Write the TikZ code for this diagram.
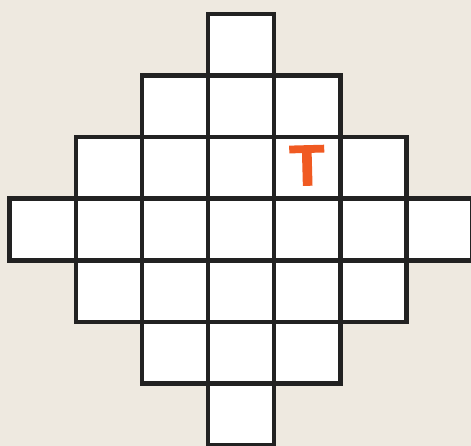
\documentclass[tikz,border=0pt]{standalone}
\usepackage{fontspec}
\newfontfamily\tfont[RawFeature={embolden=2.5}]{Liberation Sans Bold}
\definecolor{bgbeige}{RGB}{238,233,224}
\definecolor{gridline}{RGB}{34,34,34}
\definecolor{torange}{RGB}{240,90,34}
\begin{document}
\begin{tikzpicture}[x=1pt,y=-1pt,
  cell/.style={rectangle,draw=gridline,fill=white,line width=4.6pt,
    minimum width=66.1pt,minimum height=61.6pt,inner sep=0pt,outer sep=0pt},
  tletter/.style={text=torange,inner sep=0pt,rotate=1.5,font=\tfont\fontsize{57}{57}\selectfont}]
\fill[bgbeige] (0,0) rectangle (471,446);
\useasboundingbox (0,0) rectangle (471,446);
\foreach \r in {0,...,6}{
  \pgfmathtruncatemacro\k{3-abs(\r-3)}
  \pgfmathtruncatemacro\lo{3-\k}
  \pgfmathtruncatemacro\hi{3+\k}
  \foreach \c in {\lo,...,\hi}{
    \node[cell] (c-\r-\c) at ({9.7+(\c+0.5)*66.1},{14+(\r+0.5)*61.6}) {};
  }
}
\node[tletter] (tmark) at ([yshift=2.5pt]c-2-4.center) {T};
\end{tikzpicture}
\end{document}
